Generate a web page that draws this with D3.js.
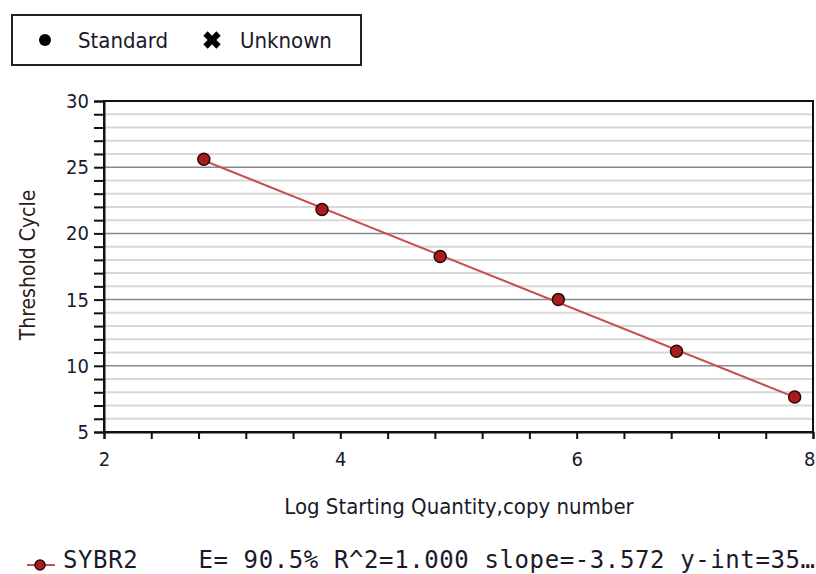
<!DOCTYPE html>
<html><head><meta charset="utf-8">
<script src="https://cdn.jsdelivr.net/npm/d3@7"></script>
<style>body{margin:0;background:#fff}</style>
</head><body>
<svg id="c" width="816" height="574"></svg>
<script>
const logQty = [2.845, 3.845, 4.845, 5.845, 6.845, 7.845];
const ctValues = [25.6, 21.8, 18.25, 15.0, 11.1, 7.65];
const xTickLabels = [2, 4, 6, 8];
const yTickLabels = [5, 10, 15, 20, 25, 30];
const legendItems = ["Standard", "Unknown"];
const seriesName = "SYBR2";
const statsText = "E= 90.5% R^2=1.000 slope=-3.572 y-int=35…";

const svg = d3.select("#c");
const m = {left:104, right:813, top:101, bottom:432};
const x = d3.scaleLinear().domain([2,8]).range([m.left, m.right]);
const y = d3.scaleLinear().domain([5,30]).range([m.bottom, m.top]);
const font = "'DejaVu Sans Condensed','DejaVu Sans',sans-serif";
const txt = "#1a1a2a";

// gridlines
const minorY = d3.range(6, 30, 1).filter(v => v % 5 !== 0);
svg.append("g").selectAll("line").data(minorY).join("line")
  .attr("x1", m.left).attr("x2", m.right)
  .attr("y1", d => y(d)).attr("y2", d => y(d))
  .attr("stroke", "#d8d8d8").attr("stroke-width", 2);
svg.append("g").selectAll("line").data(yTickLabels.filter(v => v>5 && v<30)).join("line")
  .attr("x1", m.left).attr("x2", m.right)
  .attr("y1", d => y(d)).attr("y2", d => y(d))
  .attr("stroke", "#8a8a8a").attr("stroke-width", 1.5);

// frame
svg.append("rect").attr("x", m.left).attr("y", m.top)
  .attr("width", m.right - m.left).attr("height", m.bottom - m.top)
  .attr("fill", "none").attr("stroke", "#111").attr("stroke-width", 2);

// y axis
const yAxis = d3.axisLeft(y).tickValues(d3.range(5, 31, 1)).tickSize(10)
  .tickFormat(d => yTickLabels.includes(d) ? d : "");
const gy = svg.append("g").attr("transform", `translate(${m.left},0)`).call(yAxis);
gy.select(".domain").attr("stroke", "#111").attr("stroke-width", 2);
gy.selectAll(".tick line").attr("stroke", "#111").attr("stroke-width", 2);
gy.selectAll(".tick text").attr("font-family", font).attr("font-size", 20)
  .attr("fill", txt).attr("x", -15);

// x axis
const xAxis = d3.axisBottom(x).tickValues(d3.range(2, 8.01, 0.4).map(v => +v.toFixed(1))).tickSize(7)
  .tickFormat(d => xTickLabels.includes(d) ? d : "");
const gx = svg.append("g").attr("transform", `translate(0,${m.bottom})`).call(xAxis);
gx.select(".domain").attr("stroke", "#111").attr("stroke-width", 2);
gx.selectAll(".tick line").attr("stroke", "#111").attr("stroke-width", 2);
gx.selectAll(".tick text").attr("font-family", font).attr("font-size", 20)
  .attr("fill", txt).attr("y", 20);
gx.selectAll(".tick text").filter(d => d === 8).attr("text-anchor", "end").attr("dx", 2);

// axis titles
svg.append("text").attr("x", 459).attr("y", 514)
  .attr("text-anchor", "middle").attr("font-family", font).attr("font-size", 22)
  .attr("fill", txt).text("Log Starting Quantity,copy number");
svg.append("text").attr("transform", "translate(35,265) rotate(-90)")
  .attr("text-anchor", "middle").attr("font-family", font).attr("font-size", 21)
  .attr("fill", "#2a1a1a").text("Threshold Cycle");

// regression
const mx = d3.mean(logQty), my = d3.mean(ctValues);
const slope = d3.sum(logQty.map((v,i) => (v-mx)*(ctValues[i]-my))) / d3.sum(logQty.map(v => (v-mx)**2));
const icpt = my - slope*mx;
const x0 = d3.min(logQty), x1 = d3.max(logQty);
svg.append("line").attr("x1", x(x0)).attr("y1", y(icpt+slope*x0))
  .attr("x2", x(x1)).attr("y2", y(icpt+slope*x1))
  .attr("stroke", "#c8504e").attr("stroke-width", 2);

svg.append("g").selectAll("circle").data(logQty).join("circle")
  .attr("cx", d => x(d)).attr("cy", (d,i) => y(ctValues[i])).attr("r", 6)
  .attr("fill", "#a81c20").attr("stroke", "#2a0808").attr("stroke-width", 1.5);

// top legend
const lg = svg.append("g");
lg.append("rect").attr("x", 12).attr("y", 15).attr("width", 349).attr("height", 50)
  .attr("fill", "#fff").attr("stroke", "#222").attr("stroke-width", 2);
lg.append("circle").attr("cx", 45).attr("cy", 40).attr("r", 6).attr("fill", "#000");
lg.append("path").attr("d", d3.symbol(d3.symbolCross, 190)())
  .attr("transform", "translate(212,40) rotate(45)").attr("fill", "#000");
lg.append("text").attr("x", 78).attr("y", 48).attr("font-family", font).attr("font-size", 22)
  .attr("fill", txt).text(legendItems[0]);
lg.append("text").attr("x", 240).attr("y", 48).attr("font-family", font).attr("font-size", 22)
  .attr("fill", txt).text(legendItems[1]);

// bottom legend
svg.append("line").attr("x1", 27).attr("x2", 55).attr("y1", 565).attr("y2", 565)
  .attr("stroke", "#c8504e").attr("stroke-width", 2);
svg.append("circle").attr("cx", 40).attr("cy", 565).attr("r", 5)
  .attr("fill", "#a81c20").attr("stroke", "#2a0808").attr("stroke-width", 1.5);
svg.append("text").attr("x", 63).attr("y", 568).attr("font-family", "'DejaVu Sans Mono',monospace")
  .attr("font-size", 24).attr("fill", txt)
  .style("white-space", "pre")
  .attr("textLength", 752).attr("lengthAdjust", "spacing")
  .text(seriesName + "    " + statsText);
</script>
</body></html>
